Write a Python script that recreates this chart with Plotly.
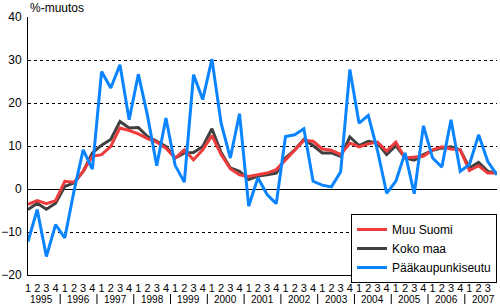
import plotly.graph_objects as go

years = [str(y) for y in range(1995, 2008)]
quarter_labels = ["1", "2", "3", "4"] * len(years)

muu_suomi = [-3.6, -2.7, -3.4, -2.7, 1.8, 1.6, 4.1, 7.6, 8.0, 9.9, 14.2, 13.6, 12.8,
             11.7, 10.9, 9.5, 7.2, 9.1, 6.8, 9.1, 12.4, 8.0, 4.7, 3.3, 2.9, 3.3,
             3.7, 4.5, 6.7, 9.1, 11.3, 11.1, 9.3, 9.0, 8.0, 10.7, 9.8, 10.5, 10.9,
             8.8, 10.9, 7.2, 7.4, 7.6, 9.1, 9.8, 9.3, 9.1, 4.3, 5.4, 3.7, 3.7]
koko_maa = [-4.8, -3.3, -4.7, -3.3, 0.6, 1.4, 4.1, 8.4, 10.2, 11.5, 15.7, 14.2, 14.3,
            12.2, 11.1, 9.9, 7.2, 8.4, 8.5, 9.9, 14.0, 8.5, 4.9, 4.1, 2.2, 3.0,
            3.3, 3.7, 7.2, 9.1, 11.5, 10.1, 8.4, 8.4, 7.6, 12.1, 10.1, 11.1, 10.7,
            8.0, 10.1, 7.2, 6.7, 8.0, 9.0, 9.5, 9.8, 9.1, 4.9, 6.2, 4.1, 3.7]
paakaupunkiseutu = [-12.2, -4.8, -15.7, -8.3, -11.4, -0.5, 9.1, 4.6, 27.3, 23.5, 28.9, 16.1, 26.7,
                    17.0, 5.4, 16.5, 5.5, 1.6, 26.6, 20.8, 30.2, 15.3, 7.2, 17.5, -4.0, 2.6,
                    -1.3, -3.4, 12.2, 12.6, 14.0, 1.8, 0.9, 0.5, 4.0, 27.8, 15.3, 17.1, 9.0,
                    -1.0, 1.8, 8.4, -1.1, 14.7, 7.2, 5.1, 16.1, 4.1, 5.7, 12.6, 6.4, 3.3]

x = list(range(len(quarter_labels)))
FONT = "Liberation Sans, Arial, sans-serif"

fig = go.Figure()
fig.add_trace(go.Scatter(x=x, y=koko_maa, name="Koko maa", mode="lines",
                         line=dict(color="#404040", width=3), legendrank=2))
fig.add_trace(go.Scatter(x=x, y=muu_suomi, name="Muu Suomi", mode="lines",
                         line=dict(color="#EE3B3B", width=3), legendrank=1))
fig.add_trace(go.Scatter(x=x, y=paakaupunkiseutu, name="Pääkaupunkiseutu", mode="lines",
                         line=dict(color="#0A84FF", width=3), legendrank=3))

T, B = 17, 31
H = 306
plot_h = H - T - B

def py(p):
    return (H - B - p) / plot_h

for k, yr in enumerate(years):
    fig.add_annotation(x=1.5 + 4 * k, y=py(299.5), xref="x", yref="paper", text=yr,
                       showarrow=False, font=dict(size=10, color="black", family=FONT),
                       xanchor="center", yanchor="middle")
for k in range(len(years) - 1):
    fig.add_shape(type="line", xref="x", yref="paper", x0=3.5 + 4 * k, x1=3.5 + 4 * k,
                  y0=py(294), y1=py(304), line=dict(color="black", width=1))

fig.add_annotation(x=0, y=py(8), xref="paper", yref="paper", text="%-muutos",
                   showarrow=False, font=dict(size=12, color="black", family=FONT),
                   xanchor="left", yanchor="middle")

fig.update_layout(
    width=500, height=H,
    margin=dict(l=28, r=3, t=T, b=B, autoexpand=False),
    paper_bgcolor="white", plot_bgcolor="white",
    font=dict(family=FONT, color="black", size=12),
    showlegend=True,
    legend=dict(x=1.0, xanchor="right", y=py(214), yanchor="top",
                bgcolor="white", bordercolor="black", borderwidth=1,
                font=dict(size=12, family=FONT), itemwidth=30,
                tracegroupgap=0, traceorder="normal"),
    xaxis=dict(range=[0, 51], tickmode="array", tickvals=x, ticktext=quarter_labels,
               showgrid=False, zeroline=False, showline=True, linecolor="black",
               linewidth=1, ticks="", tickfont=dict(size=11, family=FONT),
               tickangle=0, ticklabelstandoff=3, automargin=False),
    yaxis=dict(range=[-20, 40], dtick=10, tick0=0, showgrid=True, gridcolor="black",
               gridwidth=1, griddash="3px,3px", zeroline=True, zerolinecolor="black",
               zerolinewidth=1, showline=True, linecolor="black", linewidth=1,
               ticks="", ticklabelstandoff=3, tickfont=dict(size=12, family=FONT),
               automargin=False),
)

fig.write_html("out.html")
